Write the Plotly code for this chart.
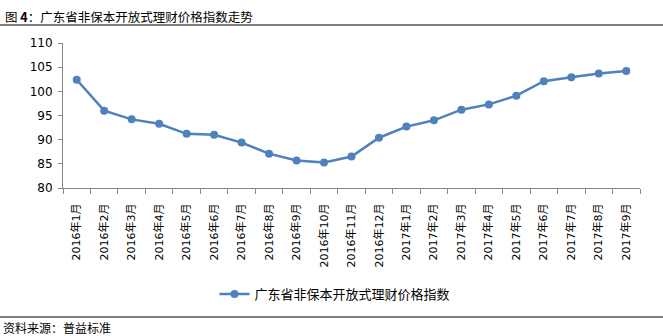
import plotly.graph_objects as go

categories = ["2016年1月", "2016年2月", "2016年3月", "2016年4月", "2016年5月", "2016年6月",
              "2016年7月", "2016年8月", "2016年9月", "2016年10月", "2016年11月", "2016年12月",
              "2017年1月", "2017年2月", "2017年3月", "2017年4月", "2017年5月", "2017年6月",
              "2017年7月", "2017年8月", "2017年9月"]
index_values = [102.4, 96.0, 94.2, 93.3, 91.2, 91.0, 89.4, 87.1, 85.7, 85.3,
                86.5, 90.4, 92.7, 94.0, 96.2, 97.3, 99.1, 102.1, 102.9, 103.7, 104.2]
series_name = "广东省非保本开放式理财价格指数"
title_text = "图 <b>4</b>：广东省非保本开放式理财价格指数走势"
source_text = "资料来源：普益标准"
y_ticks = [80, 85, 90, 95, 100, 105, 110]

CJK = "Noto Sans CJK SC"
BLUE = "#4f81bd"

fig = go.Figure()
fig.add_trace(go.Scatter(
    x=categories, y=index_values, name=series_name, mode="lines+markers",
    line=dict(color=BLUE, width=2.5),
    marker=dict(color=BLUE, size=8),
))

W, H = 663, 336
L, R, T, B = 63, 23, 43, 148
pw, ph = W - L - R, H - T - B

def px_x(p):
    return (p - L) / pw

def px_y(p):
    return (H - B - p) / ph

fig.update_layout(
    width=W, height=H,
    margin=dict(l=L, r=R, t=T, b=B),
    paper_bgcolor="white", plot_bgcolor="white",
    showlegend=True,
    legend=dict(orientation="h", x=px_x(335), xanchor="center", y=px_y(294), yanchor="middle",
                font=dict(family=CJK, size=13, color="#000"), itemwidth=30),
    font=dict(family=CJK, color="#000"),
)
fig.update_xaxes(
    type="category", range=[-0.5, len(categories) - 0.5],
    showline=True, linecolor="#868686", linewidth=1,
    ticks="outside", tickson="boundaries", ticklen=5, tickcolor="#868686",
    tickangle=-90, ticklabelstandoff=10,
    tickfont=dict(family="DejaVu Sans, Noto Sans CJK SC", size=11, color="#000"),
    showgrid=False, zeroline=False,
)
fig.update_yaxes(
    range=[80, 110], tickvals=y_ticks, showline=True, linecolor="#868686", linewidth=1,
    ticks="outside", ticklen=4, tickcolor="#868686", ticklabelstandoff=3,
    tickfont=dict(family="DejaVu Sans", size=12, color="#000"),
    showgrid=False, zeroline=False,
)

fig.add_annotation(text=title_text, xref="paper", yref="paper", x=px_x(3), y=px_y(16),
                   xanchor="left", yanchor="middle", showarrow=False,
                   font=dict(family=CJK, size=12.5, color="#000"))
fig.add_annotation(text=source_text, xref="paper", yref="paper", x=px_x(1), y=px_y(327),
                   xanchor="left", yanchor="middle", showarrow=False,
                   font=dict(family=CJK, size=12, color="#000"))
fig.add_shape(type="line", xref="paper", yref="paper", x0=px_x(0), x1=px_x(663),
              y0=px_y(25), y1=px_y(25), line=dict(color="#000", width=1.2))
fig.add_shape(type="line", xref="paper", yref="paper", x0=px_x(0), x1=px_x(663),
              y0=px_y(317), y1=px_y(317), line=dict(color="#000", width=1.2))

fig.write_html("out.html")
